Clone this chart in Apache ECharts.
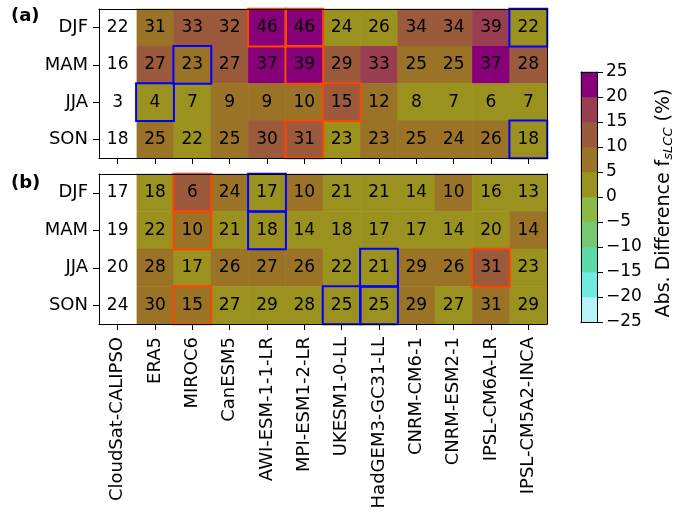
<!DOCTYPE html>
<html>
<head>
<meta charset="utf-8">
<script src="https://cdn.jsdelivr.net/npm/echarts@6/dist/echarts.min.js"></script>
<style>
html, body { margin: 0; padding: 0; background: #fff; }
#chart1 { width: 683px; height: 519px; }
</style>
</head>
<body>
<div id="chart1"></div>
<script>
// models on x, first one is the observation (CloudSat-CALIPSO)
const models = ['CloudSat-CALIPSO', 'ERA5', 'MIROC6', 'CanESM5', 'AWI-ESM-1-1-LR', 'MPI-ESM1-2-LR',
    'UKESM1-0-LL', 'HadGEM3-GC31-LL', 'CNRM-CM6-1', 'CNRM-ESM2-1', 'IPSL-CM6A-LR', 'IPSL-CM5A2-INCA'];
const seasons = ['DJF', 'MAM', 'JJA', 'SON'];

// panel (a) values
const a_DJF = [21.8, 31, 33, 32, 46, 46, 24, 26, 34, 34, 39, 22];
const a_MAM = [16, 27, 23, 27, 37, 39, 29, 33, 25, 25, 37, 28];
const a_JJA = [3.2, 4, 7, 9, 9, 10, 15, 12, 8, 7, 6, 7];
const a_SON = [18, 25, 22, 25, 30, 31, 22.8, 23.2, 25, 24, 26, 18];

// panel (b) values
const b_DJF = [17, 18, 6, 24, 17, 10, 21, 21, 14, 10, 16, 13];
const b_MAM = [18.8, 22, 10, 21, 18, 14.2, 18, 17, 17, 14, 20, 13.6];
const b_JJA = [20, 28, 17, 26, 27, 26, 22, 21, 29, 26, 31, 23];
const b_SON = [24.2, 30, 15, 27, 29, 28, 25, 25, 29.4, 27, 31, 29.1];

// boxed cells [model index, season index]
const redA = [[4, 0], [5, 0], [5, 1], [6, 2], [5, 3]];
const blueA = [[11, 0], [2, 1], [1, 2], [11, 3]];
const redB = [[2, 0], [2, 1], [10, 2], [2, 3]];
const blueB = [[4, 0], [4, 1], [7, 2], [6, 3], [7, 3]];

// colorbar
const binEdges = [-25, -20, -15, -10, -5, 0, 5, 10, 15, 20, 25];
const binColors = ['#b9f1f8', '#6eeade', '#5cd9a9', '#76c873', '#8eb844',
    '#9a911f', '#9a7327', '#9a5a3b', '#9a3f52', '#87007a'];

const font = 'DejaVu Sans';

function cellData(rows) {
    //|model - obs| goes in dim 2 for the colour, raw value in dim 3 for the label
    let out = [];
    rows.forEach(function (row, j) {
        for (let i = 1; i < row.length; i++) {
            out.push([i, j, Math.abs(row[i] - row[0]), row[i]]);
        }
    });
    return out;
}
function obsData(rows) {
    return rows.map(function (row, j) { return [0, j, 0, row[0]]; });
}
function boxData(red, blue) {
    let out = [];
    red.forEach(function (c) { out.push({ value: [c[0], c[1], 0], itemStyle: { borderColor: '#ff4500' } }); });
    blue.forEach(function (c) { out.push({ value: [c[0], c[1], 0], itemStyle: { borderColor: '#0000ff' } }); });
    return out;
}

const rowsA = [a_DJF, a_MAM, a_JJA, a_SON];
const rowsB = [b_DJF, b_MAM, b_JJA, b_SON];

let pieces = [];
for (let k = 0; k < binColors.length; k++) {
    let p = { gte: binEdges[k], color: binColors[k] };
    if (k == binColors.length - 1) p.lte = binEdges[k + 1]; else p.lt = binEdges[k + 1];
    pieces.push(p);
}
let cbData = [];
for (let k = 0; k < binColors.length; k++) {
    cbData.push({ value: [0, k, (binEdges[k] + binEdges[k + 1]) / 2], itemStyle: { color: binColors[k] } });
}

const cellLabel = {
    show: true,
    color: '#000',
    fontFamily: font,
    fontSize: 17,
    formatter: function (p) { return Math.round(p.value[3]); }
};

function xBottom(grid, showLabels) {
    return {
        type: 'category', gridIndex: grid, data: models, position: 'bottom', z: 5,
        axisLine: { show: true, onZero: false, lineStyle: { color: '#000', width: 1 } },
        axisTick: { show: true, alignWithLabel: true, length: 6, lineStyle: { color: '#000' } },
        axisLabel: { show: showLabels, rotate: 90, margin: 13, color: '#000', fontFamily: font, fontSize: 18 },
        splitLine: { show: false }
    };
}
function xTop(grid) {
    return {
        type: 'category', gridIndex: grid, data: models, position: 'top', z: 5,
        axisLine: { show: true, onZero: false, lineStyle: { color: '#000', width: 1 } },
        axisTick: { show: false }, axisLabel: { show: false }, splitLine: { show: false }
    };
}
function yLeft(grid) {
    return {
        type: 'category', gridIndex: grid, data: seasons, inverse: true, position: 'left', z: 5,
        axisLine: { show: true, onZero: false, lineStyle: { color: '#000', width: 1 } },
        axisTick: { show: true, alignWithLabel: true, length: 6, lineStyle: { color: '#000' } },
        axisLabel: { show: true, margin: 11, color: '#000', fontFamily: font, fontSize: 18 },
        splitLine: { show: false }
    };
}
function yRight(grid) {
    return {
        type: 'category', gridIndex: grid, data: seasons, inverse: true, position: 'right', z: 5,
        axisLine: { show: true, onZero: false, lineStyle: { color: '#000', width: 1 } },
        axisTick: { show: false }, axisLabel: { show: false }, splitLine: { show: false }
    };
}

let dom1 = document.getElementById('chart1');
let Chart1 = echarts.init(dom1);

let option1 = {
    animation: false,
    backgroundColor: '#fff',
    textStyle: { fontFamily: font },
    title: [
        { text: '(a)', left: 11, top: 7, padding: 0, textStyle: { fontFamily: font, fontSize: 18, fontWeight: 'bold', color: '#000' } },
        { text: '(b)', left: 11, top: 174, padding: 0, textStyle: { fontFamily: font, fontSize: 18, fontWeight: 'bold', color: '#000' } }
    ],
    grid: [
        { left: 99, top: 9, width: 448, height: 149 },
        { left: 99, top: 174, width: 448, height: 150 },
        { left: 581, top: 72, width: 16, height: 250 }
    ],
    xAxis: [
        xBottom(0, false), xTop(0),
        xBottom(1, true), xTop(1),
        {
            type: 'category', gridIndex: 2, data: ['c'], position: 'bottom', z: 5,
            axisLine: { show: true, onZero: false, lineStyle: { color: '#000' } },
            axisTick: { show: false }, axisLabel: { show: false }
        },
        {
            type: 'category', gridIndex: 2, data: ['c'], position: 'top', z: 5,
            axisLine: { show: true, onZero: false, lineStyle: { color: '#000' } },
            axisTick: { show: false }, axisLabel: { show: false }
        }
    ],
    yAxis: [
        yLeft(0), yRight(0),
        yLeft(1), yRight(1),
        {
            type: 'category', gridIndex: 2, data: binColors.map(function (c, k) { return k; }), position: 'left', z: 5,
            axisLine: { show: true, onZero: false, lineStyle: { color: '#000' } },
            axisTick: { show: false }, axisLabel: { show: false }, splitLine: { show: false }
        },
        {
            type: 'value', gridIndex: 2, min: -25, max: 25, interval: 5, position: 'right', z: 5,
            axisLine: { show: true, onZero: false, lineStyle: { color: '#000' } },
            axisTick: { show: true, length: 6, lineStyle: { color: '#000' } },
            axisLabel: {
                show: true, margin: 9, color: '#000', fontFamily: font, fontSize: 17,
                formatter: function (v) { return String(v).replace('-', '\u2212'); }
            },
            splitLine: { show: false },
            name: 'Abs. Difference f{sub|sLCC} (%)',
            nameLocation: 'middle',
            nameRotate: 90,
            nameGap: 57,
            nameTextStyle: {
                color: '#000', fontFamily: font, fontSize: 19,
                padding: [0, 12, 0, 0],
                rich: {
                    sub: { fontFamily: font, fontSize: 13, fontStyle: 'italic', color: '#000', padding: [8, 0, 0, 0] }
                }
            }
        }
    ],
    visualMap: {
        type: 'piecewise',
        show: false,
        dimension: 2,
        seriesIndex: [0, 1],
        pieces: pieces
    },
    series: [
        { type: 'heatmap', xAxisIndex: 0, yAxisIndex: 0, data: cellData(rowsA), label: cellLabel, emphasis: { disabled: true } },
        { type: 'heatmap', xAxisIndex: 2, yAxisIndex: 2, data: cellData(rowsB), label: cellLabel, emphasis: { disabled: true } },
        { type: 'heatmap', xAxisIndex: 4, yAxisIndex: 4, data: cbData, label: { show: false }, emphasis: { disabled: true } },
        { type: 'heatmap', xAxisIndex: 0, yAxisIndex: 0, data: obsData(rowsA), itemStyle: { color: '#fff' }, label: cellLabel, emphasis: { disabled: true } },
        { type: 'heatmap', xAxisIndex: 2, yAxisIndex: 2, data: obsData(rowsB), itemStyle: { color: '#fff' }, label: cellLabel, emphasis: { disabled: true } },
        {
            type: 'heatmap', xAxisIndex: 0, yAxisIndex: 0, z: 3, data: boxData(redA, blueA),
            itemStyle: { color: 'rgba(0,0,0,0)', borderWidth: 2 }, label: { show: false }, emphasis: { disabled: true }
        },
        {
            type: 'heatmap', xAxisIndex: 2, yAxisIndex: 2, z: 3, data: boxData(redB, blueB),
            itemStyle: { color: 'rgba(0,0,0,0)', borderWidth: 2 }, label: { show: false }, emphasis: { disabled: true }
        }
    ]
};

Chart1.setOption(option1);
</script>
</body>
</html>
